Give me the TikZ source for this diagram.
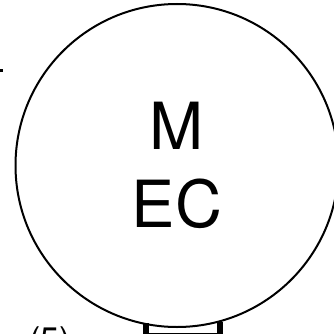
\documentclass[tikz,border=0pt]{standalone}
\usepackage{fontspec}
\setmainfont{TeX Gyre Heros}
\usetikzlibrary{positioning, calc}

\begin{document}
\begin{tikzpicture}[
  x=1pt, y=-1pt,
  mecirc/.style = {draw, circle, line width=2pt, minimum size=323pt, inner sep=0pt,
                   align=center, font=\fontsize{65}{78}\selectfont},
  lbl/.style    = {anchor=base west, inner sep=0pt, font=\fontsize{34}{40}\selectfont},
  stub/.style   = {line width=6pt},
]
\useasboundingbox (0,0) rectangle (333,334);

% ── Main circle ──────────────────────────────────────────────────────────────
\node[mecirc] (mec) at (177,165.5) {M\\EC};

% ── Label and box below ──────────────────────────────────────────────────────
\node[lbl] (five) at (29,351) {(5)};

\coordinate (bl) at (146,323);
\coordinate (br) at (219.5,322);
\coordinate (bbl) at ($(bl)+(0,20)$);
\coordinate (bbr) at ($(br)+(0,21)$);
\draw[stub] (bl) -- (bbl);
\draw[stub] (br) -- (bbr);
\draw[line width=5pt] ($(bl)+(0,12)$) -- ($(br)+(0,13)$);

% ── Stray mark at left ───────────────────────────────────────────────────────
\coordinate (m1) at (0,70.5);
\coordinate (m2) at (2.5,70.5);
\draw[line width=3pt] (m1) -- (m2);
\end{tikzpicture}
\end{document}
